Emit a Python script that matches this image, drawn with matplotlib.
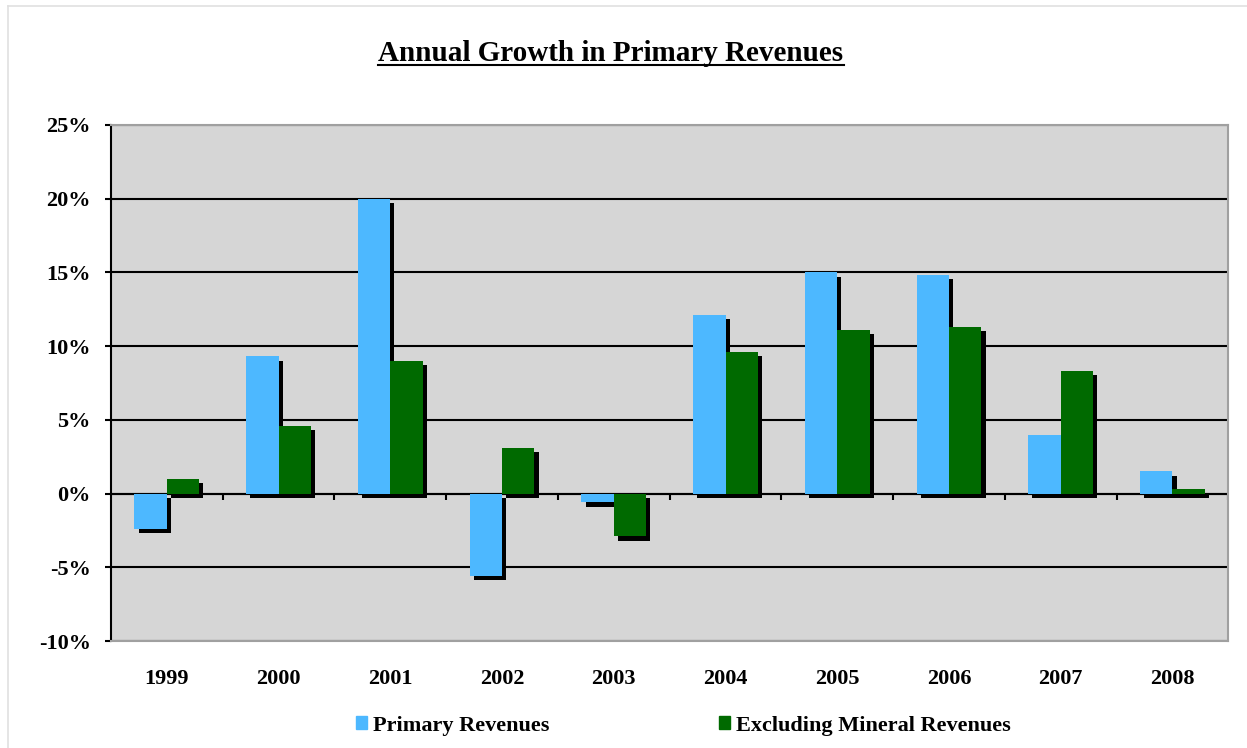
import matplotlib
matplotlib.use('Agg')
import matplotlib.pyplot as plt
import matplotlib.patheffects as pe
from matplotlib.lines import Line2D
from matplotlib.patches import Patch
import numpy as np

years = ['1999', '2000', '2001', '2002', '2003', '2004', '2005', '2006', '2007', '2008']
primary = [-2.4, 9.3, 20.0, -5.6, -0.6, 12.1, 15.0, 14.8, 4.0, 1.5]
excl_mineral = [1.0, 4.6, 9.0, 3.1, -2.9, 9.6, 11.1, 11.3, 8.3, 0.3]
yticks = [-10, -5, 0, 5, 10, 15, 20, 25]

blue = '#4DB8FF'
green = '#006A00'
bg = '#D6D6D6'
frame_gray = '#A0A0A0'

plt.rcParams['font.family'] = ['Liberation Serif', 'DejaVu Serif']
plt.rcParams['font.weight'] = 'bold'

fig = plt.figure(figsize=(12.47, 7.48), dpi=100)
ax = fig.add_axes([0.089, 0.143, 0.896, 0.690])
ax.set_facecolor(bg)

x = np.arange(len(years))
w = 0.29
shadow = [pe.SimplePatchShadow(offset=(3, -3), shadow_rgbFace='black', alpha=1.0), pe.Normal()]
b1 = ax.bar(x - w / 2, primary, w, color=blue, zorder=3, label='Primary Revenues')
b2 = ax.bar(x + w / 2, excl_mineral, w, color=green, zorder=3, label='Excluding Mineral Revenues')
for p in list(b1) + list(b2):
    p.set_path_effects(shadow)

ax.set_xlim(-0.5, len(years) - 0.5)
ax.set_ylim(-10, 25)
ax.set_yticks(yticks)
ax.set_yticklabels([f'{v}%' for v in yticks], fontsize=16, fontweight='bold')
ax.yaxis.grid(True, color='black', lw=1.5)
ax.set_axisbelow(True)
ax.set_xticks(x)
ax.set_xticklabels(years, fontsize=16, fontweight='bold')
ax.tick_params(axis='x', length=0, pad=20)
ax.tick_params(axis='y', length=4.5, width=1.5, color='black', pad=10)

# zero axis with category ticks
ax.axhline(0, color='black', lw=1.5, zorder=1)
bounds = np.arange(len(years) + 1) - 0.5
ax.vlines(bounds[1:], -0.45, 0, color='black', lw=1.5, zorder=1)

for s in ['top', 'right', 'bottom']:
    ax.spines[s].set_color(frame_gray)
    ax.spines[s].set_linewidth(1.5)
ax.spines['left'].set_color('black')
ax.spines['left'].set_linewidth(1.5)

# faint outer chart border
fig.add_artist(Line2D([8 / 1247, 8 / 1247], [0, 1 - 6 / 748], color='#E0E0E0', lw=1.2,
                      transform=fig.transFigure))
fig.add_artist(Line2D([8 / 1247, 1], [1 - 6 / 748, 1 - 6 / 748], color='#E0E0E0', lw=1.2,
                      transform=fig.transFigure))

title = fig.text(0.49, 0.928, 'Annual Growth in Primary Revenues', ha='center', va='center',
                 fontsize=21, fontweight='bold')
fig.canvas.draw()
bb = title.get_window_extent().transformed(fig.transFigure.inverted())
fig.add_artist(Line2D([bb.x0, bb.x1], [bb.y0 + 0.003, bb.y0 + 0.003], color='black', lw=1.5,
                      transform=fig.transFigure))

handles = [Patch(color=blue), Patch(color=green)]
fig.legend(handles, ['Primary Revenues', 'Excluding Mineral Revenues'], loc='center',
           bbox_to_anchor=(0.548, 0.03), ncol=2, frameon=False, fontsize=16,
           handlelength=0.5, handleheight=0.5, handletextpad=0.3, columnspacing=7.6)

fig.savefig('out.png', dpi=100)
